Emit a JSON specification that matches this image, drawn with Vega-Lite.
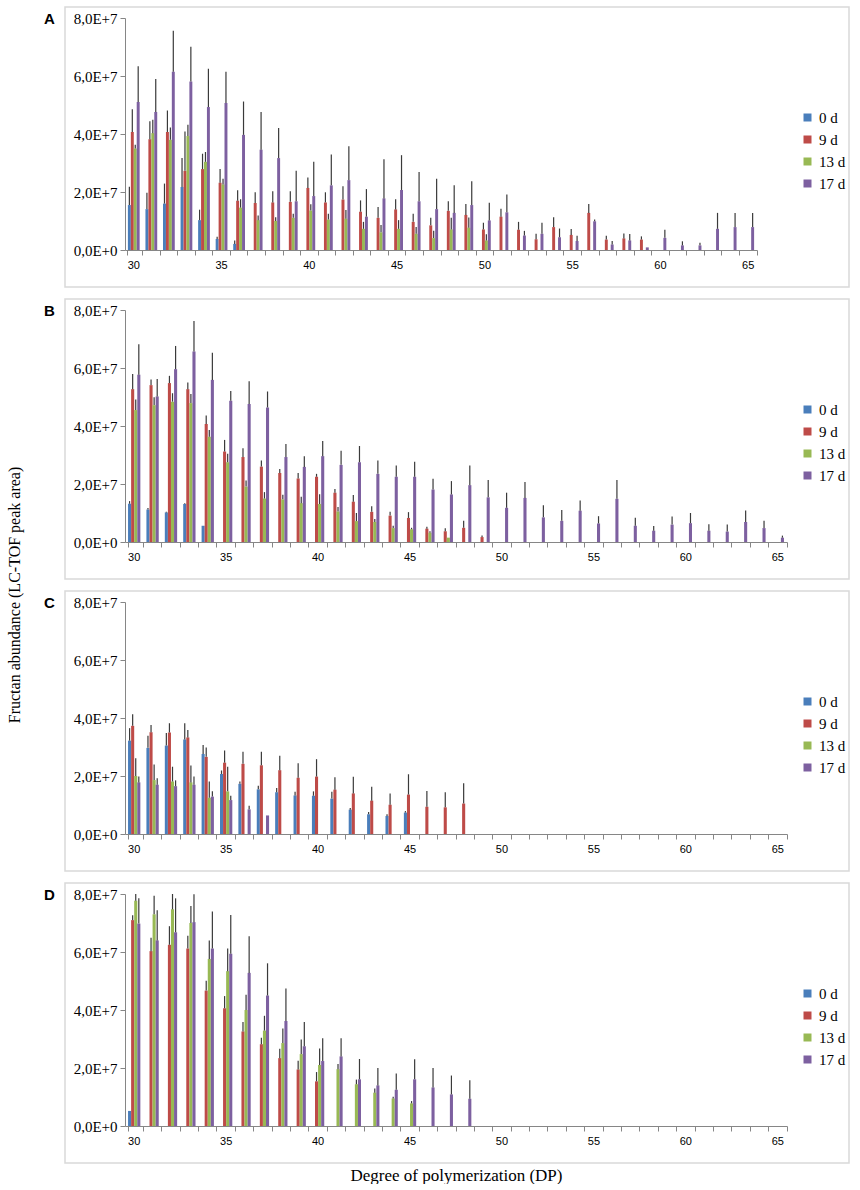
{
  "$schema": "https://vega.github.io/schema/vega-lite/v6.json",
  "padding": {"left": 6, "top": 6, "right": 8, "bottom": 0},
  "title": {
    "text": "Fructan abundance (LC-TOF peak area)",
    "orient": "left",
    "anchor": "middle",
    "font": "Liberation Serif",
    "fontSize": 16,
    "fontWeight": "normal",
    "color": "#000000",
    "offset": 20
  },
  "spacing": 10,
  "resolve": {
    "scale": {"color": "independent", "xOffset": "independent"},
    "legend": {"color": "independent"}
  },
  "data": {
    "values": [
      {"panel": "A", "dp": 30, "day": "0 d", "mean": 1.55e7, "upper": 2.18e7},
      {"panel": "A", "dp": 31, "day": "0 d", "mean": 1.41e7, "upper": 1.97e7},
      {"panel": "A", "dp": 32, "day": "0 d", "mean": 1.60e7, "upper": 2.29e7},
      {"panel": "A", "dp": 33, "day": "0 d", "mean": 2.17e7, "upper": 3.17e7},
      {"panel": "A", "dp": 34, "day": "0 d", "mean": 1.03e7, "upper": 1.39e7},
      {"panel": "A", "dp": 35, "day": "0 d", "mean": 0.38e7, "upper": 0.46e7},
      {"panel": "A", "dp": 36, "day": "0 d", "mean": 0.21e7, "upper": 0.33e7},
      {"panel": "A", "dp": 30, "day": "9 d", "mean": 4.07e7, "upper": 4.85e7},
      {"panel": "A", "dp": 31, "day": "9 d", "mean": 3.82e7, "upper": 4.44e7},
      {"panel": "A", "dp": 32, "day": "9 d", "mean": 4.07e7, "upper": 4.81e7},
      {"panel": "A", "dp": 33, "day": "9 d", "mean": 2.73e7, "upper": 4.09e7},
      {"panel": "A", "dp": 34, "day": "9 d", "mean": 2.79e7, "upper": 3.32e7},
      {"panel": "A", "dp": 35, "day": "9 d", "mean": 2.32e7, "upper": 2.79e7},
      {"panel": "A", "dp": 36, "day": "9 d", "mean": 1.70e7, "upper": 2.06e7},
      {"panel": "A", "dp": 37, "day": "9 d", "mean": 1.62e7, "upper": 1.99e7},
      {"panel": "A", "dp": 38, "day": "9 d", "mean": 1.64e7, "upper": 2.03e7},
      {"panel": "A", "dp": 39, "day": "9 d", "mean": 1.66e7, "upper": 2.03e7},
      {"panel": "A", "dp": 40, "day": "9 d", "mean": 2.14e7, "upper": 2.50e7},
      {"panel": "A", "dp": 41, "day": "9 d", "mean": 1.64e7, "upper": 1.99e7},
      {"panel": "A", "dp": 42, "day": "9 d", "mean": 1.74e7, "upper": 2.20e7},
      {"panel": "A", "dp": 43, "day": "9 d", "mean": 1.32e7, "upper": 1.71e7},
      {"panel": "A", "dp": 44, "day": "9 d", "mean": 1.11e7, "upper": 1.48e7},
      {"panel": "A", "dp": 45, "day": "9 d", "mean": 1.40e7, "upper": 1.75e7},
      {"panel": "A", "dp": 46, "day": "9 d", "mean": 0.97e7, "upper": 1.25e7},
      {"panel": "A", "dp": 47, "day": "9 d", "mean": 0.85e7, "upper": 1.11e7},
      {"panel": "A", "dp": 48, "day": "9 d", "mean": 1.35e7, "upper": 1.68e7},
      {"panel": "A", "dp": 49, "day": "9 d", "mean": 1.21e7, "upper": 1.59e7},
      {"panel": "A", "dp": 50, "day": "9 d", "mean": 0.71e7, "upper": 0.94e7},
      {"panel": "A", "dp": 51, "day": "9 d", "mean": 1.15e7, "upper": 1.42e7},
      {"panel": "A", "dp": 52, "day": "9 d", "mean": 0.70e7, "upper": 0.97e7},
      {"panel": "A", "dp": 53, "day": "9 d", "mean": 0.37e7, "upper": 0.56e7},
      {"panel": "A", "dp": 54, "day": "9 d", "mean": 0.79e7, "upper": 1.13e7},
      {"panel": "A", "dp": 55, "day": "9 d", "mean": 0.52e7, "upper": 0.72e7},
      {"panel": "A", "dp": 56, "day": "9 d", "mean": 1.28e7, "upper": 1.59e7},
      {"panel": "A", "dp": 57, "day": "9 d", "mean": 0.36e7, "upper": 0.49e7},
      {"panel": "A", "dp": 58, "day": "9 d", "mean": 0.40e7, "upper": 0.57e7},
      {"panel": "A", "dp": 59, "day": "9 d", "mean": 0.36e7, "upper": 0.47e7},
      {"panel": "A", "dp": 30, "day": "13 d", "mean": 3.50e7, "upper": 3.63e7},
      {"panel": "A", "dp": 31, "day": "13 d", "mean": 4.03e7, "upper": 4.49e7},
      {"panel": "A", "dp": 32, "day": "13 d", "mean": 3.80e7, "upper": 4.22e7},
      {"panel": "A", "dp": 33, "day": "13 d", "mean": 3.93e7, "upper": 4.32e7},
      {"panel": "A", "dp": 34, "day": "13 d", "mean": 3.04e7, "upper": 3.38e7},
      {"panel": "A", "dp": 35, "day": "13 d", "mean": 2.26e7, "upper": 2.46e7},
      {"panel": "A", "dp": 36, "day": "13 d", "mean": 1.46e7, "upper": 1.75e7},
      {"panel": "A", "dp": 37, "day": "13 d", "mean": 1.03e7, "upper": 1.19e7},
      {"panel": "A", "dp": 38, "day": "13 d", "mean": 1.00e7, "upper": 1.13e7},
      {"panel": "A", "dp": 39, "day": "13 d", "mean": 1.11e7, "upper": 1.25e7},
      {"panel": "A", "dp": 40, "day": "13 d", "mean": 1.36e7, "upper": 1.58e7},
      {"panel": "A", "dp": 41, "day": "13 d", "mean": 1.05e7, "upper": 1.25e7},
      {"panel": "A", "dp": 42, "day": "13 d", "mean": 1.08e7, "upper": 1.38e7},
      {"panel": "A", "dp": 43, "day": "13 d", "mean": 0.73e7, "upper": 0.97e7},
      {"panel": "A", "dp": 44, "day": "13 d", "mean": 0.61e7, "upper": 0.86e7},
      {"panel": "A", "dp": 45, "day": "13 d", "mean": 0.73e7, "upper": 1.03e7},
      {"panel": "A", "dp": 46, "day": "13 d", "mean": 0.56e7, "upper": 0.79e7},
      {"panel": "A", "dp": 47, "day": "13 d", "mean": 0.41e7, "upper": 0.66e7},
      {"panel": "A", "dp": 48, "day": "13 d", "mean": 0.71e7, "upper": 1.11e7},
      {"panel": "A", "dp": 49, "day": "13 d", "mean": 0.77e7, "upper": 1.12e7},
      {"panel": "A", "dp": 50, "day": "13 d", "mean": 0.33e7, "upper": 0.54e7},
      {"panel": "A", "dp": 30, "day": "17 d", "mean": 5.10e7, "upper": 6.34e7},
      {"panel": "A", "dp": 31, "day": "17 d", "mean": 4.76e7, "upper": 5.90e7},
      {"panel": "A", "dp": 32, "day": "17 d", "mean": 6.15e7, "upper": 7.56e7},
      {"panel": "A", "dp": 33, "day": "17 d", "mean": 5.81e7, "upper": 7.01e7},
      {"panel": "A", "dp": 34, "day": "17 d", "mean": 4.93e7, "upper": 6.25e7},
      {"panel": "A", "dp": 35, "day": "17 d", "mean": 5.07e7, "upper": 6.15e7},
      {"panel": "A", "dp": 36, "day": "17 d", "mean": 3.97e7, "upper": 5.12e7},
      {"panel": "A", "dp": 37, "day": "17 d", "mean": 3.46e7, "upper": 4.76e7},
      {"panel": "A", "dp": 38, "day": "17 d", "mean": 3.17e7, "upper": 4.21e7},
      {"panel": "A", "dp": 39, "day": "17 d", "mean": 1.68e7, "upper": 2.73e7},
      {"panel": "A", "dp": 40, "day": "17 d", "mean": 1.86e7, "upper": 3.04e7},
      {"panel": "A", "dp": 41, "day": "17 d", "mean": 2.23e7, "upper": 3.29e7},
      {"panel": "A", "dp": 42, "day": "17 d", "mean": 2.41e7, "upper": 3.58e7},
      {"panel": "A", "dp": 43, "day": "17 d", "mean": 1.15e7, "upper": 2.10e7},
      {"panel": "A", "dp": 44, "day": "17 d", "mean": 1.78e7, "upper": 3.13e7},
      {"panel": "A", "dp": 45, "day": "17 d", "mean": 2.07e7, "upper": 3.27e7},
      {"panel": "A", "dp": 46, "day": "17 d", "mean": 1.68e7, "upper": 2.69e7},
      {"panel": "A", "dp": 47, "day": "17 d", "mean": 1.41e7, "upper": 2.46e7},
      {"panel": "A", "dp": 48, "day": "17 d", "mean": 1.28e7, "upper": 2.23e7},
      {"panel": "A", "dp": 49, "day": "17 d", "mean": 1.55e7, "upper": 2.37e7},
      {"panel": "A", "dp": 50, "day": "17 d", "mean": 1.02e7, "upper": 1.63e7},
      {"panel": "A", "dp": 51, "day": "17 d", "mean": 1.30e7, "upper": 1.91e7},
      {"panel": "A", "dp": 52, "day": "17 d", "mean": 0.50e7, "upper": 0.66e7},
      {"panel": "A", "dp": 53, "day": "17 d", "mean": 0.56e7, "upper": 0.94e7},
      {"panel": "A", "dp": 54, "day": "17 d", "mean": 0.44e7, "upper": 0.74e7},
      {"panel": "A", "dp": 55, "day": "17 d", "mean": 0.31e7, "upper": 0.49e7},
      {"panel": "A", "dp": 56, "day": "17 d", "mean": 0.99e7, "upper": 1.05e7},
      {"panel": "A", "dp": 57, "day": "17 d", "mean": 0.19e7, "upper": 0.31e7},
      {"panel": "A", "dp": 58, "day": "17 d", "mean": 0.33e7, "upper": 0.55e7},
      {"panel": "A", "dp": 59, "day": "17 d", "mean": 0.09e7, "upper": 0.09e7},
      {"panel": "A", "dp": 60, "day": "17 d", "mean": 0.42e7, "upper": 0.70e7},
      {"panel": "A", "dp": 61, "day": "17 d", "mean": 0.16e7, "upper": 0.30e7},
      {"panel": "A", "dp": 62, "day": "17 d", "mean": 0.16e7, "upper": 0.25e7},
      {"panel": "A", "dp": 63, "day": "17 d", "mean": 0.73e7, "upper": 1.28e7},
      {"panel": "A", "dp": 64, "day": "17 d", "mean": 0.79e7, "upper": 1.28e7},
      {"panel": "A", "dp": 65, "day": "17 d", "mean": 0.79e7, "upper": 1.28e7},

      {"panel": "B", "dp": 30, "day": "0 d", "mean": 1.32e7, "upper": 1.41e7},
      {"panel": "B", "dp": 31, "day": "0 d", "mean": 1.12e7, "upper": 1.17e7},
      {"panel": "B", "dp": 32, "day": "0 d", "mean": 1.02e7, "upper": 1.04e7},
      {"panel": "B", "dp": 33, "day": "0 d", "mean": 1.31e7, "upper": 1.34e7},
      {"panel": "B", "dp": 34, "day": "0 d", "mean": 0.56e7, "upper": 0.56e7},
      {"panel": "B", "dp": 30, "day": "9 d", "mean": 5.27e7, "upper": 5.79e7},
      {"panel": "B", "dp": 31, "day": "9 d", "mean": 5.41e7, "upper": 5.60e7},
      {"panel": "B", "dp": 32, "day": "9 d", "mean": 5.48e7, "upper": 5.73e7},
      {"panel": "B", "dp": 33, "day": "9 d", "mean": 5.27e7, "upper": 5.50e7},
      {"panel": "B", "dp": 34, "day": "9 d", "mean": 4.07e7, "upper": 4.36e7},
      {"panel": "B", "dp": 35, "day": "9 d", "mean": 3.12e7, "upper": 3.52e7},
      {"panel": "B", "dp": 36, "day": "9 d", "mean": 2.93e7, "upper": 3.23e7},
      {"panel": "B", "dp": 37, "day": "9 d", "mean": 2.60e7, "upper": 2.81e7},
      {"panel": "B", "dp": 38, "day": "9 d", "mean": 2.38e7, "upper": 2.52e7},
      {"panel": "B", "dp": 39, "day": "9 d", "mean": 2.19e7, "upper": 2.38e7},
      {"panel": "B", "dp": 40, "day": "9 d", "mean": 2.25e7, "upper": 2.35e7},
      {"panel": "B", "dp": 41, "day": "9 d", "mean": 1.70e7, "upper": 1.83e7},
      {"panel": "B", "dp": 42, "day": "9 d", "mean": 1.39e7, "upper": 1.62e7},
      {"panel": "B", "dp": 43, "day": "9 d", "mean": 1.04e7, "upper": 1.23e7},
      {"panel": "B", "dp": 44, "day": "9 d", "mean": 0.91e7, "upper": 1.04e7},
      {"panel": "B", "dp": 45, "day": "9 d", "mean": 0.83e7, "upper": 1.03e7},
      {"panel": "B", "dp": 46, "day": "9 d", "mean": 0.46e7, "upper": 0.53e7},
      {"panel": "B", "dp": 47, "day": "9 d", "mean": 0.37e7, "upper": 0.47e7},
      {"panel": "B", "dp": 48, "day": "9 d", "mean": 0.49e7, "upper": 0.73e7},
      {"panel": "B", "dp": 49, "day": "9 d", "mean": 0.17e7, "upper": 0.22e7},
      {"panel": "B", "dp": 30, "day": "13 d", "mean": 4.55e7, "upper": 4.91e7},
      {"panel": "B", "dp": 31, "day": "13 d", "mean": 4.72e7, "upper": 4.99e7},
      {"panel": "B", "dp": 32, "day": "13 d", "mean": 4.84e7, "upper": 5.13e7},
      {"panel": "B", "dp": 33, "day": "13 d", "mean": 4.79e7, "upper": 5.10e7},
      {"panel": "B", "dp": 34, "day": "13 d", "mean": 3.63e7, "upper": 3.86e7},
      {"panel": "B", "dp": 35, "day": "13 d", "mean": 2.75e7, "upper": 3.04e7},
      {"panel": "B", "dp": 36, "day": "13 d", "mean": 1.91e7, "upper": 2.12e7},
      {"panel": "B", "dp": 37, "day": "13 d", "mean": 1.50e7, "upper": 1.72e7},
      {"panel": "B", "dp": 38, "day": "13 d", "mean": 1.47e7, "upper": 1.63e7},
      {"panel": "B", "dp": 39, "day": "13 d", "mean": 1.34e7, "upper": 1.56e7},
      {"panel": "B", "dp": 40, "day": "13 d", "mean": 1.31e7, "upper": 1.65e7},
      {"panel": "B", "dp": 41, "day": "13 d", "mean": 1.05e7, "upper": 1.21e7},
      {"panel": "B", "dp": 42, "day": "13 d", "mean": 0.72e7, "upper": 1.00e7},
      {"panel": "B", "dp": 43, "day": "13 d", "mean": 0.69e7, "upper": 0.79e7},
      {"panel": "B", "dp": 44, "day": "13 d", "mean": 0.48e7, "upper": 0.56e7},
      {"panel": "B", "dp": 45, "day": "13 d", "mean": 0.44e7, "upper": 0.49e7},
      {"panel": "B", "dp": 46, "day": "13 d", "mean": 0.32e7, "upper": 0.37e7},
      {"panel": "B", "dp": 47, "day": "13 d", "mean": 0.15e7, "upper": 0.15e7},
      {"panel": "B", "dp": 30, "day": "17 d", "mean": 5.77e7, "upper": 6.82e7},
      {"panel": "B", "dp": 31, "day": "17 d", "mean": 5.02e7, "upper": 5.62e7},
      {"panel": "B", "dp": 32, "day": "17 d", "mean": 5.96e7, "upper": 6.76e7},
      {"panel": "B", "dp": 33, "day": "17 d", "mean": 6.57e7, "upper": 7.62e7},
      {"panel": "B", "dp": 34, "day": "17 d", "mean": 5.59e7, "upper": 6.53e7},
      {"panel": "B", "dp": 35, "day": "17 d", "mean": 4.87e7, "upper": 5.21e7},
      {"panel": "B", "dp": 36, "day": "17 d", "mean": 4.76e7, "upper": 5.54e7},
      {"panel": "B", "dp": 37, "day": "17 d", "mean": 4.64e7, "upper": 5.19e7},
      {"panel": "B", "dp": 38, "day": "17 d", "mean": 2.93e7, "upper": 3.38e7},
      {"panel": "B", "dp": 39, "day": "17 d", "mean": 2.59e7, "upper": 2.96e7},
      {"panel": "B", "dp": 40, "day": "17 d", "mean": 2.96e7, "upper": 3.48e7},
      {"panel": "B", "dp": 41, "day": "17 d", "mean": 2.66e7, "upper": 3.15e7},
      {"panel": "B", "dp": 42, "day": "17 d", "mean": 2.75e7, "upper": 3.31e7},
      {"panel": "B", "dp": 43, "day": "17 d", "mean": 2.35e7, "upper": 2.81e7},
      {"panel": "B", "dp": 44, "day": "17 d", "mean": 2.25e7, "upper": 2.64e7},
      {"panel": "B", "dp": 45, "day": "17 d", "mean": 2.25e7, "upper": 2.77e7},
      {"panel": "B", "dp": 46, "day": "17 d", "mean": 1.81e7, "upper": 2.18e7},
      {"panel": "B", "dp": 47, "day": "17 d", "mean": 1.64e7, "upper": 2.10e7},
      {"panel": "B", "dp": 48, "day": "17 d", "mean": 1.96e7, "upper": 2.64e7},
      {"panel": "B", "dp": 49, "day": "17 d", "mean": 1.54e7, "upper": 2.14e7},
      {"panel": "B", "dp": 50, "day": "17 d", "mean": 1.18e7, "upper": 1.70e7},
      {"panel": "B", "dp": 51, "day": "17 d", "mean": 1.52e7, "upper": 2.07e7},
      {"panel": "B", "dp": 52, "day": "17 d", "mean": 0.85e7, "upper": 1.27e7},
      {"panel": "B", "dp": 53, "day": "17 d", "mean": 0.73e7, "upper": 1.10e7},
      {"panel": "B", "dp": 54, "day": "17 d", "mean": 1.08e7, "upper": 1.43e7},
      {"panel": "B", "dp": 55, "day": "17 d", "mean": 0.64e7, "upper": 0.89e7},
      {"panel": "B", "dp": 56, "day": "17 d", "mean": 1.49e7, "upper": 2.14e7},
      {"panel": "B", "dp": 57, "day": "17 d", "mean": 0.56e7, "upper": 0.84e7},
      {"panel": "B", "dp": 58, "day": "17 d", "mean": 0.39e7, "upper": 0.55e7},
      {"panel": "B", "dp": 59, "day": "17 d", "mean": 0.60e7, "upper": 0.88e7},
      {"panel": "B", "dp": 60, "day": "17 d", "mean": 0.65e7, "upper": 1.00e7},
      {"panel": "B", "dp": 61, "day": "17 d", "mean": 0.39e7, "upper": 0.61e7},
      {"panel": "B", "dp": 62, "day": "17 d", "mean": 0.36e7, "upper": 0.60e7},
      {"panel": "B", "dp": 63, "day": "17 d", "mean": 0.69e7, "upper": 1.09e7},
      {"panel": "B", "dp": 64, "day": "17 d", "mean": 0.48e7, "upper": 0.73e7},
      {"panel": "B", "dp": 65, "day": "17 d", "mean": 0.15e7, "upper": 0.22e7},

      {"panel": "C", "dp": 30, "day": "0 d", "mean": 3.22e7, "upper": 3.65e7},
      {"panel": "C", "dp": 31, "day": "0 d", "mean": 2.97e7, "upper": 3.39e7},
      {"panel": "C", "dp": 32, "day": "0 d", "mean": 3.05e7, "upper": 3.48e7},
      {"panel": "C", "dp": 33, "day": "0 d", "mean": 3.26e7, "upper": 3.82e7},
      {"panel": "C", "dp": 34, "day": "0 d", "mean": 2.76e7, "upper": 3.07e7},
      {"panel": "C", "dp": 35, "day": "0 d", "mean": 2.07e7, "upper": 2.19e7},
      {"panel": "C", "dp": 36, "day": "0 d", "mean": 1.73e7, "upper": 1.81e7},
      {"panel": "C", "dp": 37, "day": "0 d", "mean": 1.54e7, "upper": 1.66e7},
      {"panel": "C", "dp": 38, "day": "0 d", "mean": 1.44e7, "upper": 1.59e7},
      {"panel": "C", "dp": 39, "day": "0 d", "mean": 1.33e7, "upper": 1.46e7},
      {"panel": "C", "dp": 40, "day": "0 d", "mean": 1.32e7, "upper": 1.47e7},
      {"panel": "C", "dp": 41, "day": "0 d", "mean": 1.22e7, "upper": 1.46e7},
      {"panel": "C", "dp": 42, "day": "0 d", "mean": 0.84e7, "upper": 0.90e7},
      {"panel": "C", "dp": 43, "day": "0 d", "mean": 0.68e7, "upper": 0.76e7},
      {"panel": "C", "dp": 44, "day": "0 d", "mean": 0.62e7, "upper": 0.68e7},
      {"panel": "C", "dp": 45, "day": "0 d", "mean": 0.74e7, "upper": 0.79e7},
      {"panel": "C", "dp": 30, "day": "9 d", "mean": 3.73e7, "upper": 4.13e7},
      {"panel": "C", "dp": 31, "day": "9 d", "mean": 3.51e7, "upper": 3.76e7},
      {"panel": "C", "dp": 32, "day": "9 d", "mean": 3.50e7, "upper": 3.82e7},
      {"panel": "C", "dp": 33, "day": "9 d", "mean": 3.33e7, "upper": 3.59e7},
      {"panel": "C", "dp": 34, "day": "9 d", "mean": 2.66e7, "upper": 2.98e7},
      {"panel": "C", "dp": 35, "day": "9 d", "mean": 2.46e7, "upper": 2.88e7},
      {"panel": "C", "dp": 36, "day": "9 d", "mean": 2.42e7, "upper": 2.84e7},
      {"panel": "C", "dp": 37, "day": "9 d", "mean": 2.37e7, "upper": 2.84e7},
      {"panel": "C", "dp": 38, "day": "9 d", "mean": 2.20e7, "upper": 2.70e7},
      {"panel": "C", "dp": 39, "day": "9 d", "mean": 1.94e7, "upper": 2.44e7},
      {"panel": "C", "dp": 40, "day": "9 d", "mean": 1.98e7, "upper": 2.58e7},
      {"panel": "C", "dp": 41, "day": "9 d", "mean": 1.53e7, "upper": 1.96e7},
      {"panel": "C", "dp": 42, "day": "9 d", "mean": 1.40e7, "upper": 1.97e7},
      {"panel": "C", "dp": 43, "day": "9 d", "mean": 1.15e7, "upper": 1.63e7},
      {"panel": "C", "dp": 44, "day": "9 d", "mean": 1.01e7, "upper": 1.40e7},
      {"panel": "C", "dp": 45, "day": "9 d", "mean": 1.36e7, "upper": 2.06e7},
      {"panel": "C", "dp": 46, "day": "9 d", "mean": 0.94e7, "upper": 1.48e7},
      {"panel": "C", "dp": 47, "day": "9 d", "mean": 0.92e7, "upper": 1.44e7},
      {"panel": "C", "dp": 48, "day": "9 d", "mean": 1.05e7, "upper": 1.75e7},
      {"panel": "C", "dp": 30, "day": "13 d", "mean": 2.00e7, "upper": 2.61e7},
      {"panel": "C", "dp": 31, "day": "13 d", "mean": 1.86e7, "upper": 2.40e7},
      {"panel": "C", "dp": 32, "day": "13 d", "mean": 1.81e7, "upper": 2.32e7},
      {"panel": "C", "dp": 33, "day": "13 d", "mean": 1.78e7, "upper": 2.36e7},
      {"panel": "C", "dp": 34, "day": "13 d", "mean": 1.25e7, "upper": 1.81e7},
      {"panel": "C", "dp": 35, "day": "13 d", "mean": 1.47e7, "upper": 2.32e7},
      {"panel": "C", "dp": 30, "day": "17 d", "mean": 1.78e7, "upper": 1.98e7},
      {"panel": "C", "dp": 31, "day": "17 d", "mean": 1.70e7, "upper": 1.92e7},
      {"panel": "C", "dp": 32, "day": "17 d", "mean": 1.65e7, "upper": 1.85e7},
      {"panel": "C", "dp": 33, "day": "17 d", "mean": 1.70e7, "upper": 1.98e7},
      {"panel": "C", "dp": 34, "day": "17 d", "mean": 1.29e7, "upper": 1.47e7},
      {"panel": "C", "dp": 35, "day": "17 d", "mean": 1.17e7, "upper": 1.32e7},
      {"panel": "C", "dp": 36, "day": "17 d", "mean": 0.85e7, "upper": 0.97e7},
      {"panel": "C", "dp": 37, "day": "17 d", "mean": 0.64e7, "upper": 0.64e7},

      {"panel": "D", "dp": 30, "day": "0 d", "mean": 0.52e7, "upper": 0.52e7},
      {"panel": "D", "dp": 30, "day": "9 d", "mean": 7.10e7, "upper": 7.27e7},
      {"panel": "D", "dp": 31, "day": "9 d", "mean": 6.03e7, "upper": 6.49e7},
      {"panel": "D", "dp": 32, "day": "9 d", "mean": 6.25e7, "upper": 6.89e7},
      {"panel": "D", "dp": 33, "day": "9 d", "mean": 6.12e7, "upper": 6.56e7},
      {"panel": "D", "dp": 34, "day": "9 d", "mean": 4.67e7, "upper": 5.01e7},
      {"panel": "D", "dp": 35, "day": "9 d", "mean": 4.06e7, "upper": 4.48e7},
      {"panel": "D", "dp": 36, "day": "9 d", "mean": 3.26e7, "upper": 3.59e7},
      {"panel": "D", "dp": 37, "day": "9 d", "mean": 2.82e7, "upper": 3.04e7},
      {"panel": "D", "dp": 38, "day": "9 d", "mean": 2.34e7, "upper": 2.66e7},
      {"panel": "D", "dp": 39, "day": "9 d", "mean": 1.95e7, "upper": 2.25e7},
      {"panel": "D", "dp": 40, "day": "9 d", "mean": 1.54e7, "upper": 1.86e7},
      {"panel": "D", "dp": 30, "day": "13 d", "mean": 7.77e7, "upper": 8.00e7},
      {"panel": "D", "dp": 31, "day": "13 d", "mean": 7.30e7, "upper": 7.94e7},
      {"panel": "D", "dp": 32, "day": "13 d", "mean": 7.47e7, "upper": 8.00e7},
      {"panel": "D", "dp": 33, "day": "13 d", "mean": 7.00e7, "upper": 7.59e7},
      {"panel": "D", "dp": 34, "day": "13 d", "mean": 5.76e7, "upper": 6.40e7},
      {"panel": "D", "dp": 35, "day": "13 d", "mean": 5.34e7, "upper": 6.12e7},
      {"panel": "D", "dp": 36, "day": "13 d", "mean": 4.00e7, "upper": 4.53e7},
      {"panel": "D", "dp": 37, "day": "13 d", "mean": 3.29e7, "upper": 3.80e7},
      {"panel": "D", "dp": 38, "day": "13 d", "mean": 2.86e7, "upper": 3.36e7},
      {"panel": "D", "dp": 39, "day": "13 d", "mean": 2.48e7, "upper": 2.98e7},
      {"panel": "D", "dp": 40, "day": "13 d", "mean": 2.10e7, "upper": 2.67e7},
      {"panel": "D", "dp": 41, "day": "13 d", "mean": 1.96e7, "upper": 2.14e7},
      {"panel": "D", "dp": 42, "day": "13 d", "mean": 1.44e7, "upper": 1.60e7},
      {"panel": "D", "dp": 43, "day": "13 d", "mean": 1.15e7, "upper": 1.29e7},
      {"panel": "D", "dp": 44, "day": "13 d", "mean": 0.95e7, "upper": 1.01e7},
      {"panel": "D", "dp": 45, "day": "13 d", "mean": 0.78e7, "upper": 0.86e7},
      {"panel": "D", "dp": 30, "day": "17 d", "mean": 6.98e7, "upper": 7.85e7},
      {"panel": "D", "dp": 31, "day": "17 d", "mean": 6.40e7, "upper": 7.44e7},
      {"panel": "D", "dp": 32, "day": "17 d", "mean": 6.68e7, "upper": 7.85e7},
      {"panel": "D", "dp": 33, "day": "17 d", "mean": 7.03e7, "upper": 7.99e7},
      {"panel": "D", "dp": 34, "day": "17 d", "mean": 6.12e7, "upper": 7.40e7},
      {"panel": "D", "dp": 35, "day": "17 d", "mean": 5.94e7, "upper": 7.28e7},
      {"panel": "D", "dp": 36, "day": "17 d", "mean": 5.28e7, "upper": 6.54e7},
      {"panel": "D", "dp": 37, "day": "17 d", "mean": 4.50e7, "upper": 5.61e7},
      {"panel": "D", "dp": 38, "day": "17 d", "mean": 3.62e7, "upper": 4.74e7},
      {"panel": "D", "dp": 39, "day": "17 d", "mean": 2.75e7, "upper": 3.59e7},
      {"panel": "D", "dp": 40, "day": "17 d", "mean": 2.24e7, "upper": 3.03e7},
      {"panel": "D", "dp": 41, "day": "17 d", "mean": 2.40e7, "upper": 3.03e7},
      {"panel": "D", "dp": 42, "day": "17 d", "mean": 1.61e7, "upper": 2.31e7},
      {"panel": "D", "dp": 43, "day": "17 d", "mean": 1.40e7, "upper": 2.00e7},
      {"panel": "D", "dp": 44, "day": "17 d", "mean": 1.25e7, "upper": 1.81e7},
      {"panel": "D", "dp": 45, "day": "17 d", "mean": 1.61e7, "upper": 2.30e7},
      {"panel": "D", "dp": 46, "day": "17 d", "mean": 1.33e7, "upper": 2.00e7},
      {"panel": "D", "dp": 47, "day": "17 d", "mean": 1.09e7, "upper": 1.74e7},
      {"panel": "D", "dp": 48, "day": "17 d", "mean": 0.94e7, "upper": 1.58e7}
    ]
  },
  "vconcat": [
    {
      "width": 784,
      "height": 280,
      "transform": [{"filter": "datum.panel == 'A'"}],
      "encoding": {
        "x": {
          "field": "dp", "type": "ordinal",
          "scale": {"domain": [30,31,32,33,34,35,36,37,38,39,40,41,42,43,44,45,46,47,48,49,50,51,52,53,54,55,56,57,58,59,60,61,62,63,64,65], "range": [60, 692], "paddingInner": 0.33, "paddingOuter": 0.165},
          "axis": {"title": null, "offset": -37, "bandPosition": 1.25, "tickExtra": true, "labelAngle": 0, "labelExpr": "datum.value % 5 == 0 ? datum.label : ''"}
        },
        "xOffset": {"field": "day", "type": "nominal", "scale": {"domain": ["0 d", "9 d", "13 d", "17 d"]}},
        "y": {
          "field": "mean", "type": "quantitative",
          "scale": {"domain": [0, 80000000], "range": [243, 11], "nice": false},
          "axis": {"title": "A", "offset": -60, "values": [0, 20000000, 40000000, 60000000, 80000000], "labelExpr": "datum.value == 0 ? '0,0E+0' : replace(format(datum.value / 1e7, '.1f'), '.', ',') + 'E+7'"}
        }
      },
      "layer": [
        {
          "mark": "bar",
          "encoding": {
            "color": {
              "field": "day", "type": "nominal",
              "scale": {"domain": ["0 d", "9 d", "13 d", "17 d"], "range": ["#4a7ebb", "#be4b48", "#98b954", "#7d60a0"]},
              "legend": {"orient": "none", "legendX": 735, "legendY": 103}
            }
          }
        },
        {
          "mark": {"type": "rule", "color": "#3a3a3a", "strokeWidth": 1.2},
          "transform": [{"filter": "datum.upper > datum.mean"}],
          "encoding": {"y2": {"field": "upper"}}
        }
      ]
    },
    {
      "width": 784,
      "height": 280,
      "transform": [{"filter": "datum.panel == 'B'"}],
      "encoding": {
        "x": {
          "field": "dp", "type": "ordinal",
          "scale": {"domain": [30,31,32,33,34,35,36,37,38,39,40,41,42,43,44,45,46,47,48,49,50,51,52,53,54,55,56,57,58,59,60,61,62,63,64,65], "range": [60, 722], "paddingInner": 0.33, "paddingOuter": 0.165},
          "axis": {"title": null, "offset": -37, "bandPosition": 1.25, "tickExtra": true, "labelAngle": 0, "labelExpr": "datum.value % 5 == 0 ? datum.label : ''"}
        },
        "xOffset": {"field": "day", "type": "nominal", "scale": {"domain": ["0 d", "9 d", "13 d", "17 d"]}},
        "y": {
          "field": "mean", "type": "quantitative",
          "scale": {"domain": [0, 80000000], "range": [243, 11], "nice": false},
          "axis": {"title": "B", "offset": -60, "values": [0, 20000000, 40000000, 60000000, 80000000], "labelExpr": "datum.value == 0 ? '0,0E+0' : replace(format(datum.value / 1e7, '.1f'), '.', ',') + 'E+7'"}
        }
      },
      "layer": [
        {
          "mark": "bar",
          "encoding": {
            "color": {
              "field": "day", "type": "nominal",
              "scale": {"domain": ["0 d", "9 d", "13 d", "17 d"], "range": ["#4a7ebb", "#be4b48", "#98b954", "#7d60a0"]},
              "legend": {"orient": "none", "legendX": 735, "legendY": 103}
            }
          }
        },
        {
          "mark": {"type": "rule", "color": "#3a3a3a", "strokeWidth": 1.2},
          "transform": [{"filter": "datum.upper > datum.mean"}],
          "encoding": {"y2": {"field": "upper"}}
        }
      ]
    },
    {
      "width": 784,
      "height": 280,
      "transform": [{"filter": "datum.panel == 'C'"}],
      "encoding": {
        "x": {
          "field": "dp", "type": "ordinal",
          "scale": {"domain": [30,31,32,33,34,35,36,37,38,39,40,41,42,43,44,45,46,47,48,49,50,51,52,53,54,55,56,57,58,59,60,61,62,63,64,65], "range": [60, 722], "paddingInner": 0.33, "paddingOuter": 0.165},
          "axis": {"title": null, "offset": -37, "bandPosition": 1.25, "tickExtra": true, "labelAngle": 0, "labelExpr": "datum.value % 5 == 0 ? datum.label : ''"}
        },
        "xOffset": {"field": "day", "type": "nominal", "scale": {"domain": ["0 d", "9 d", "13 d", "17 d"]}},
        "y": {
          "field": "mean", "type": "quantitative",
          "scale": {"domain": [0, 80000000], "range": [243, 11], "nice": false},
          "axis": {"title": "C", "offset": -60, "values": [0, 20000000, 40000000, 60000000, 80000000], "labelExpr": "datum.value == 0 ? '0,0E+0' : replace(format(datum.value / 1e7, '.1f'), '.', ',') + 'E+7'"}
        }
      },
      "layer": [
        {
          "mark": "bar",
          "encoding": {
            "color": {
              "field": "day", "type": "nominal",
              "scale": {"domain": ["0 d", "9 d", "13 d", "17 d"], "range": ["#4a7ebb", "#be4b48", "#98b954", "#7d60a0"]},
              "legend": {"orient": "none", "legendX": 735, "legendY": 103}
            }
          }
        },
        {
          "mark": {"type": "rule", "color": "#3a3a3a", "strokeWidth": 1.2},
          "transform": [{"filter": "datum.upper > datum.mean"}],
          "encoding": {"y2": {"field": "upper"}}
        }
      ]
    },
    {
      "width": 784,
      "height": 280,
      "transform": [{"filter": "datum.panel == 'D'"}],
      "encoding": {
        "x": {
          "field": "dp", "type": "ordinal",
          "scale": {"domain": [30,31,32,33,34,35,36,37,38,39,40,41,42,43,44,45,46,47,48,49,50,51,52,53,54,55,56,57,58,59,60,61,62,63,64,65], "range": [60, 722], "paddingInner": 0.33, "paddingOuter": 0.165},
          "axis": {"title": "Degree of polymerization (DP)", "titlePadding": 21, "offset": -37, "bandPosition": 1.25, "tickExtra": true, "labelAngle": 0, "labelExpr": "datum.value % 5 == 0 ? datum.label : ''"}
        },
        "xOffset": {"field": "day", "type": "nominal", "scale": {"domain": ["0 d", "9 d", "13 d", "17 d"]}},
        "y": {
          "field": "mean", "type": "quantitative",
          "scale": {"domain": [0, 80000000], "range": [243, 11], "nice": false},
          "axis": {"title": "D", "offset": -60, "values": [0, 20000000, 40000000, 60000000, 80000000], "labelExpr": "datum.value == 0 ? '0,0E+0' : replace(format(datum.value / 1e7, '.1f'), '.', ',') + 'E+7'"}
        }
      },
      "layer": [
        {
          "mark": "bar",
          "encoding": {
            "color": {
              "field": "day", "type": "nominal",
              "scale": {"domain": ["0 d", "9 d", "13 d", "17 d"], "range": ["#4a7ebb", "#be4b48", "#98b954", "#7d60a0"]},
              "legend": {"orient": "none", "legendX": 735, "legendY": 103}
            }
          }
        },
        {
          "mark": {"type": "rule", "color": "#3a3a3a", "strokeWidth": 1.2},
          "transform": [{"filter": "datum.upper > datum.mean"}],
          "encoding": {"y2": {"field": "upper"}}
        }
      ]
    }
  ],
  "config": {
    "view": {"stroke": "#d9d9d9", "strokeWidth": 1.5},
    "axis": {"domainColor": "#868686", "tickColor": "#868686", "grid": false, "tickSize": 5},
    "axisX": {
      "labelFont": "Liberation Sans", "labelFontSize": 11, "labelColor": "#000000", "labelPadding": 4,
      "titleFont": "Liberation Serif", "titleFontSize": 17, "titleFontWeight": "normal", "titleColor": "#000000"
    },
    "axisY": {
      "labelFont": "Liberation Serif", "labelFontSize": 15, "labelColor": "#000000", "labelPadding": 3,
      "titleFont": "Liberation Sans", "titleFontSize": 15, "titleFontWeight": "bold", "titleColor": "#000000",
      "titleAngle": 0, "titleX": -76, "titleY": 11, "titleAlign": "center", "titleBaseline": "middle"
    },
    "legend": {
      "title": null, "labelFont": "Liberation Serif", "labelFontSize": 15, "labelColor": "#000000",
      "symbolType": "square", "symbolSize": 64, "symbolStrokeWidth": 0, "rowPadding": 6, "labelOffset": 4
    }
  }
}
